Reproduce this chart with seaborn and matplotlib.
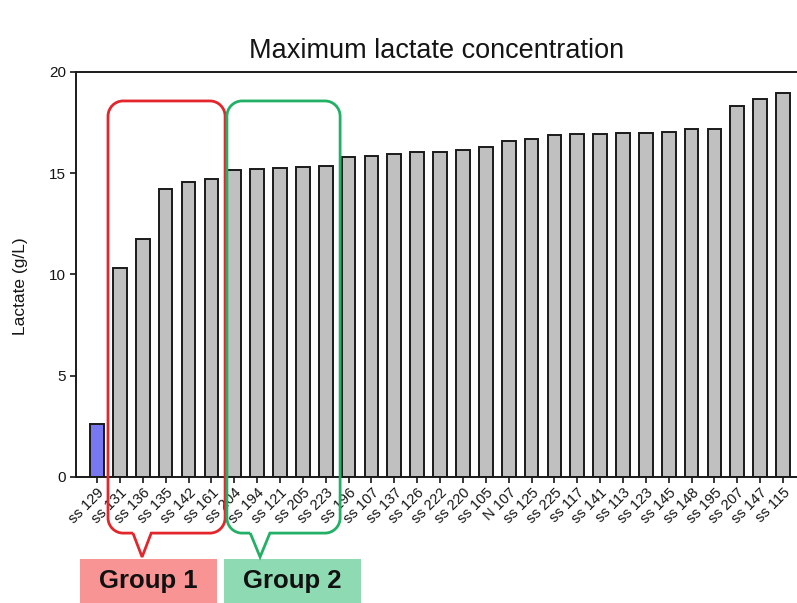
import matplotlib
matplotlib.use("Agg")
import matplotlib.pyplot as plt
from matplotlib.path import Path
from matplotlib.patches import PathPatch, Rectangle
import seaborn as sns
import pandas as pd

# Strain labels and their maximum lactate concentration (g/L)
strains = ["ss 129", "ss 131", "ss 136", "ss 135", "ss 142", "ss 161", "ss 204",
           "ss 194", "ss 121", "ss 205", "ss 223", "ss 196", "ss 107", "ss 137",
           "ss 126", "ss 222", "ss 220", "ss 105", "N 107", "ss 125", "ss 225",
           "ss 117", "ss 141", "ss 113", "ss 123", "ss 145", "ss 148", "ss 195",
           "ss 207", "ss 147", "ss 115"]
lactate = [2.6, 10.3, 11.75, 14.2, 14.55, 14.7, 15.15,
           15.2, 15.25, 15.3, 15.35, 15.8, 15.85, 15.95,
           16.05, 16.05, 16.15, 16.3, 16.6, 16.7, 16.9,
           16.95, 16.95, 16.98, 17.0, 17.05, 17.2, 17.2,
           18.3, 18.65, 18.95]
y_ticks = [0, 5, 10, 15, 20]

# Strains highlighted in each group
group1 = ["ss 131", "ss 136", "ss 135", "ss 142", "ss 161"]
group2 = ["ss 204", "ss 194", "ss 121", "ss 205", "ss 223"]

sns.set_style("ticks")
plt.rcParams["font.family"] = ["Liberation Sans", "DejaVu Sans"]

df = pd.DataFrame({"strain": strains, "lactate": lactate})
colors = {s: ("#7878f2" if s == "ss 129" else "#c0c0c0") for s in strains}

W, H = 797, 603
fig = plt.figure(figsize=(W / 100, H / 100), dpi=100)
ax = fig.add_axes([76 / W, 1 - 477 / H, (797 - 76) / W, (477 - 72) / H])

sns.barplot(data=df, x="strain", y="lactate", hue="strain", palette=colors,
            legend=False, width=0.6, edgecolor="#1a1a1a", linewidth=1.4,
            saturation=1, ax=ax)

ink = "#151515"
ax.set_xlim(-0.92, 30.61)
ax.set_ylim(0, 20)
ax.set_yticks(y_ticks)
ax.set_yticklabels([str(t) for t in y_ticks], fontsize=11, color=ink)
ax.set_xlabel("")
ax.set_ylabel("Lactate (g/L)", fontsize=12.5, color=ink)
ax.yaxis.set_label_coords(-0.067, 0.47)
ax.set_title("Maximum lactate concentration", fontsize=19.5, pad=10, color=ink)
ax.tick_params(axis="x", labelsize=10.5, labelcolor=ink, length=4, width=1.2,
               pad=2, color=ink)
ax.tick_params(axis="y", length=4, width=1.2, pad=3, color=ink)
plt.setp(ax.get_xticklabels(), rotation=45, ha="right", rotation_mode="anchor")
for side in ("left", "bottom", "top"):
    ax.spines[side].set_visible(True)
    ax.spines[side].set_linewidth(1.4)
    ax.spines[side].set_color("#1a1a1a")
ax.spines["right"].set_visible(False)


def callout(x0, x1, y_top, y_bot, tip_x, half_base, tip_y, rx, ry):
    """Rounded bracket with a downward pointer, in data coordinates."""
    k = 0.55
    verts = [
        (tip_x - half_base, y_bot), (tip_x, tip_y), (tip_x + half_base, y_bot),
        (x1 - rx, y_bot),
        (x1 - rx + k * rx, y_bot), (x1, y_bot + ry - k * ry), (x1, y_bot + ry),
        (x1, y_top - ry),
        (x1, y_top - ry + k * ry), (x1 - rx + k * rx, y_top), (x1 - rx, y_top),
        (x0 + rx, y_top),
        (x0 + rx - k * rx, y_top), (x0, y_top - ry + k * ry), (x0, y_top - ry),
        (x0, y_bot + ry),
        (x0, y_bot + ry - k * ry), (x0 + rx - k * rx, y_bot), (x0 + rx, y_bot),
        (tip_x - half_base, y_bot),
    ]
    codes = [Path.MOVETO, Path.LINETO, Path.LINETO, Path.LINETO,
             Path.CURVE4, Path.CURVE4, Path.CURVE4, Path.LINETO,
             Path.CURVE4, Path.CURVE4, Path.CURVE4, Path.LINETO,
             Path.CURVE4, Path.CURVE4, Path.CURVE4, Path.LINETO,
             Path.CURVE4, Path.CURVE4, Path.CURVE4, Path.LINETO]
    return Path(verts, codes)


pos = {s: i for i, s in enumerate(strains)}
rx, ry = 0.66, 0.75
y_top, y_bot, tip_y = 18.57, -2.77, -3.95

specs = [
    (group1, -0.52, 0.60, 1.97, 0.40, "#e3262b", "#f89494", "Group 1", (-0.74, 5.25)),
    (group2, -0.32, 0.63, 7.13, 0.43, "#22b066", "#8edbb3", "Group 2", (5.55, 11.54)),
]
for members, lpad, rpad, tip_x, hb, line_c, box_c, text, (bx0, bx1) in specs:
    x0 = pos[members[0]] + lpad
    x1 = pos[members[-1]] + rpad
    path = callout(x0, x1, y_top, y_bot, tip_x, hb, tip_y, rx, ry)
    ax.add_patch(PathPatch(path, facecolor="none", edgecolor=line_c, lw=2.0,
                           clip_on=False, zorder=5))
    ax.add_patch(Rectangle((bx0, -6.6), bx1 - bx0, 6.6 - 4.05, facecolor=box_c,
                           edgecolor="none", clip_on=False, zorder=4))
    ax.text((bx0 + bx1) / 2, -5.15, text, ha="center", va="center",
            fontsize=18.5, fontweight="bold", color="#111111", zorder=6)

fig.savefig("out.png", dpi=100)
